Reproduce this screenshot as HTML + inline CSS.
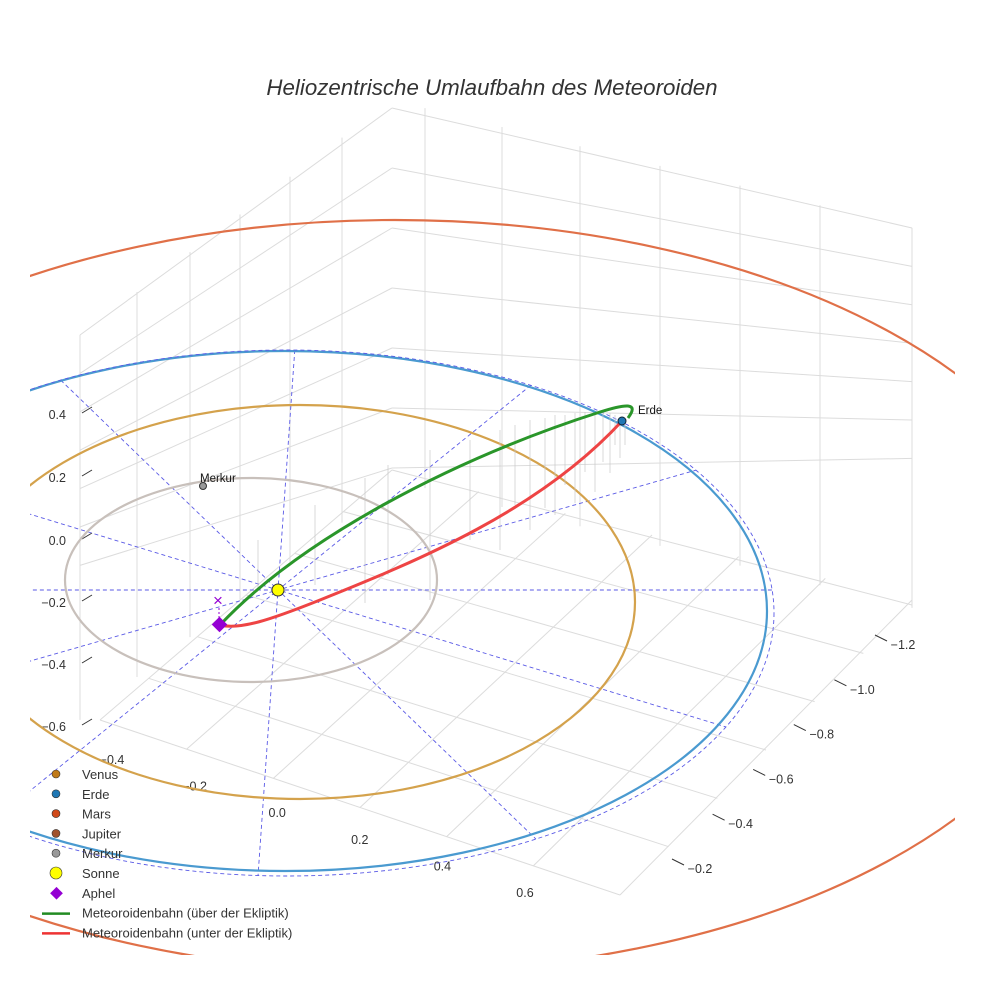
<!DOCTYPE html>
<html><head><meta charset="utf-8"><style>
body{margin:0;background:#fff;overflow:hidden}
svg{display:block;font-family:"Liberation Sans",sans-serif}
</style></head><body>
<svg id="chart" width="984" height="984" viewBox="0 0 984 984">
<text x="492" y="95" text-anchor="middle" font-size="22.3" font-style="italic" fill="#333">Heliozentrische Umlaufbahn des Meteoroiden</text>
<g id="grid" stroke="#dcdcdc" stroke-width="1" fill="none"></g>
<g id="ticks" font-size="12.5" fill="#333"></g>
<defs><clipPath id="cp"><rect x="30" y="0" width="925" height="955"/></clipPath></defs>
<g id="dash" stroke="#5a5ae6" stroke-width="0.9" stroke-dasharray="4,3" fill="none" clip-path="url(#cp)"></g>
<g id="orbits" fill="none" clip-path="url(#cp)"></g>
<g id="drops" stroke="#c8c8c8" stroke-width="0.7"></g>
<g id="met" fill="none" stroke-width="3"></g>
<g id="marks"></g>
<g id="legend" font-size="13" fill="#333"></g>
</svg>
<script>
const NS="http://www.w3.org/2000/svg";
function mk(p,t,a){const e=document.createElementNS(NS,t);for(const k in a)e.setAttribute(k,a[k]);document.getElementById(p).appendChild(e);return e;}
// data
const orbitNames=["Merkur","Venus","Erde","Erde-dash","Mars"];
const orbitCx=[251,300,285,287,395];
const orbitCy=[580,602,611,613,596];
const orbitRx=[186,335,482,487,695];
const orbitRy=[102,197,260,263,376];
const orbitColors=["#c8c0bb","#d4a24c","#4a9ad0","#5a5ae6","#e07048"];
const zTicks=["0.4","0.2","0.0","−0.2","−0.4","−0.6"];
const xTicks=["−0.4","−0.2","0.0","0.2","0.4","0.6"];
const yTicks=["−1.2","−1.0","−0.8","−0.6","−0.4","−0.2"];
const dashAngles=[0,17,44,94,141,-16];
const legendLabels=["Venus","Erde","Mars","Jupiter","Merkur","Sonne","Aphel","Meteoroidenbahn (über der Ekliptik)","Meteoroidenbahn (unter der Ekliptik)"];
const legendColors=["#c07a1a","#1f77b4","#d04a1a","#a0522d","#999","#ffff00","#9400d3","#228b22","#ee3333"];
const dropX=[258,315,365,388,430,470,500,515,530,545,555,565,575,585,595,603,610,615,620,625];
const dropTop=[540,505,478,465,450,440,430,425,420,418,415,415,413,412,412,412,413,415,418,425];
const dropLen=[50,80,125,110,150,100,120,80,110,90,100,70,90,60,80,50,60,30,40,20];
// grid
const g="grid";
for(let i=0;i<7;i++){const d=i*60;mk(g,"line",{x1:392,y1:108+d,x2:912,y2:228+d*0.64});mk(g,"line",{x1:392,y1:108+d,x2:80,y2:335+d*0.64});}
[425,502,580,660,740,820,912].forEach(x=>{const t=100+(x-392)*0.246;mk(g,"line",{x1:x,y1:t,x2:x,y2:t+380});});
[137,190,240,290,342,80].forEach(x=>{const t=100+(392-x)*0.753;mk(g,"line",{x1:x,y1:t,x2:x,y2:t+385});});
for(let i=0;i<7;i++){const f=i/6;mk(g,"line",{x1:100+f*(392-100),y1:720-f*250,x2:620+f*(912-620),y2:895-f*290});
mk(g,"line",{x1:100+f*(620-100),y1:720+f*175,x2:392+f*(912-392),y2:470+f*130});}
// ticks
const zY=[415,478,541,603,665,727];
zTicks.forEach((t,i)=>{mk("ticks","text",{x:66,y:zY[i]+4,"text-anchor":"end"}).textContent=t;mk("ticks","line",{x1:82,y1:zY[i]-2,x2:92,y2:zY[i]-8,stroke:"#333"});});
xTicks.forEach((t,i)=>{const x=112+i*82.6,y=764+i*26.6;mk("ticks","text",{x:x,y:y,"text-anchor":"middle"}).textContent=t;});
yTicks.forEach((t,i)=>{const x=903-i*40.6,y=649+i*44.8;mk("ticks","text",{x:x,y:y,"text-anchor":"middle"}).textContent=t;mk("ticks","line",{x1:x-28,y1:y-14,x2:x-16,y2:y-8,stroke:"#333"});});
// dashed lines: through sun, clipped to Erde dashed ellipse
const sx=278,sy=590;
function hit(dx,dy){const ecx=orbitCx[3],ecy=orbitCy[3],a=orbitRx[3],b=orbitRy[3];
const px=sx-ecx,py=sy-ecy;const A=dx*dx/(a*a)+dy*dy/(b*b),B=2*(px*dx/(a*a)+py*dy/(b*b)),C=px*px/(a*a)+py*py/(b*b)-1;
return (-B+Math.sqrt(B*B-4*A*C))/(2*A);}
dashAngles.forEach(a=>{const r=a*Math.PI/180,dx=Math.cos(r),dy=Math.sin(r);const t1=hit(dx,dy),t2=hit(-dx,-dy);
const l=mk("dash","line",{x1:sx-dx*t2,y1:sy-dy*t2,x2:sx+dx*t1,y2:sy+dy*t1});
});
orbitNames.forEach((n,i)=>{const e=mk("orbits","ellipse",{cx:orbitCx[i],cy:orbitCy[i],rx:orbitRx[i],ry:orbitRy[i],stroke:orbitColors[i],"stroke-width":n=="Erde-dash"?0.9:2.2});
if(n=="Erde-dash")e.setAttribute("stroke-dasharray","4,3");

});
dropX.forEach((x,i)=>{const l=mk("drops","line",{x1:x,y1:dropTop[i],x2:x,y2:dropTop[i]+dropLen[i]});});
// meteoroid
let p=mk("met","path",{d:"M220,625 C300,540 450,460 600,412 C625,404 640,402 628,418",stroke:"#2a962a"});

p=mk("met","path",{d:"M622,421 C540,510 420,560 320,600 C270,620 240,630 220,625",stroke:"#ee4444"});

// markers
mk("marks","circle",{cx:278,cy:590,r:6,fill:"#ffff00",stroke:"#333"});
mk("marks","circle",{cx:622,cy:421,r:4,fill:"#1f77b4",stroke:"#123"});
mk("marks","circle",{cx:203,cy:486,r:3.5,fill:"#999",stroke:"#333"});
mk("marks","rect",{x:214,y:619,width:11,height:11,fill:"#9400d3",transform:"rotate(45 219.5 624.5)"});
mk("marks","text",{x:213,y:606,fill:"#9400d3","font-size":"17"}).textContent="×";
mk("marks","line",{x1:219,y1:608,x2:219,y2:618,stroke:"#9400d3","stroke-dasharray":"2,2"});
mk("marks","text",{x:638,y:414,"font-size":"11.5",fill:"#111"}).textContent="Erde";
mk("marks","text",{x:200,y:482,"font-size":"11.5",fill:"#111"}).textContent="Merkur";
// legend
legendLabels.forEach((t,i)=>{const y=775+i*19.8;
if(i>=7){mk("legend","line",{x1:42,y1:y,x2:70,y2:y,stroke:legendColors[i],"stroke-width":2.5});}
else if(i==6){mk("legend","rect",{x:52,y:y-5,width:9,height:9,fill:legendColors[i],transform:`rotate(45 56.5 ${y-0.5})`});}
else{mk("legend","circle",{cx:56,cy:y-1,r:i==5?6:4,fill:legendColors[i],stroke:"#333","stroke-width":0.6});}
const tx=mk("legend","text",{x:82,y:y+4});tx.textContent=t;
});
</script>
</body></html>
